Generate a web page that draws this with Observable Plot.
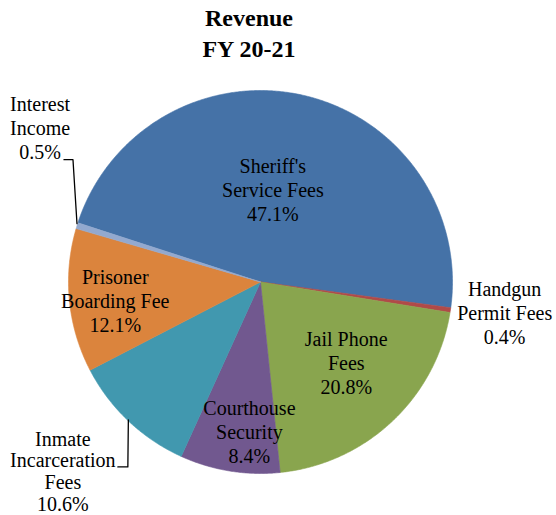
<!DOCTYPE html>
<html>
<head>
<meta charset="utf-8">
<style>
  @font-face { font-family: "ChartSerif"; font-weight: 400; src: local("Liberation Serif"), local("LiberationSerif"), local("LiberationSerif-Regular"), local("Times New Roman"); }
  @font-face { font-family: "ChartSerif"; font-weight: 700; src: local("Liberation Serif Bold"), local("LiberationSerif-Bold"), local("Times New Roman Bold"); }
</style>
<script src="https://cdn.jsdelivr.net/npm/d3@7"></script>
<script src="https://cdn.jsdelivr.net/npm/@observablehq/plot@0.6"></script>
</head>
<body style="margin:0;background:#fff;font-size:20px;font-family:'Liberation Serif'">
<div id="title" style="width:498px;height:66px;box-sizing:border-box;padding-top:3.4px;font-family:'Liberation Serif', ChartSerif, serif;font-weight:bold;font-size:24px;line-height:31px;text-align:center;color:#000">Revenue<br>FY 20-21</div>
<div id="chart"></div>
<script>
// ---- data ----
const categories = ["Sheriff's Service Fees", "Handgun Permit Fees", "Jail Phone Fees",
  "Courthouse Security", "Inmate Incarceration Fees", "Prisoner Boarding Fee", "Interest Income"];
const labelText = ["Sheriff's\nService Fees", "Handgun\nPermit Fees", "Jail Phone\nFees",
  "Courthouse\nSecurity", "Inmate\nIncarceration\nFees", "Prisoner\nBoarding Fee", "Interest\nIncome"];
const shares = [47.1, 0.4, 20.8, 8.4, 10.6, 12.1, 0.5];
const colors = ["#4572A7", "#B04A48", "#89A54E", "#71588F", "#4198AF", "#DB843D", "#93A9CF"];

// ---- layout / style ----
const START_DEG = 288;
const RX = 192, RY = 191.5; // pixel radius, used to convert pixel nudges to data units
const labelLayout = {
  "Sheriff's Service Fees":    {k: 0.5,  dx: -9,   dy: 0.5},
  "Handgun Permit Fees":       {k: 1.27, dx: 3,    dy: -5},
  "Jail Phone Fees":           {k: 0.62, dx: 4,    dy: -6},
  "Courthouse Security":       {k: 0.78, dx: 13,   dy: 1.5},
  "Inmate Incarceration Fees": {k: 1.42, dx: -10,  dy: -8, lh: 1.09},
  "Prisoner Boarding Fee":     {k: 0.76, dx: 0,    dy: 4},
  "Interest Income":           {k: 1.4,  dx: 36.5, dy: -76}
};
const leaderLayout = {
  "Interest Income":           [[0, -2], [-4, -66], [-13, -66]],
  "Inmate Incarceration Fees": [[0, -1], [-0.5, 46], [-10.5, 46]]
};

function draw() {
  const rows = categories.map((c, i) => ({name: c, label: labelText[i], share: shares[i]}));
  const start = START_DEG * Math.PI / 180;
  const arcs = d3.pie().sort(null).value(d => d.share).startAngle(start).endAngle(start + 2 * Math.PI)(rows);

  const slicePts = [];
  for (const a of arcs) {
    const n = Math.max(2, Math.ceil((a.endAngle - a.startAngle) / (0.4 * Math.PI / 180)));
    slicePts.push({name: a.data.name, x: 0, y: 0});
    for (let j = 0; j <= n; j++) {
      const t = a.startAngle + (a.endAngle - a.startAngle) * j / n;
      slicePts.push({name: a.data.name, x: Math.sin(t), y: Math.cos(t)});
    }
    slicePts.push({name: a.data.name, x: 0, y: 0});
  }

  const labels = arcs.map(a => {
    const L = labelLayout[a.data.name];
    const m = (a.startAngle + a.endAngle) / 2;
    return {
      name: a.data.name,
      text: a.data.label + "\n" + a.data.share.toFixed(1) + "%",
      x: L.k * Math.sin(m) + L.dx / RX,
      y: L.k * Math.cos(m) - L.dy / RY,
      lh: L.lh || 1.2
    };
  });

  const leaderPts = [];
  for (const a of arcs) {
    const off = leaderLayout[a.data.name];
    if (!off) continue;
    const m = (a.startAngle + a.endAngle) / 2;
    const ex = Math.sin(m), ey = Math.cos(m);
    for (const [ox, oy] of off) leaderPts.push({name: a.data.name, x: ex + ox / RX, y: ey - oy / RY});
  }

  const font = "'Liberation Serif', ChartSerif, serif";
  const plot = Plot.plot({
    width: 556,
    height: 449,
    marginLeft: 68, marginRight: 104, marginTop: 24, marginBottom: 42,
    x: {domain: [-1, 1], axis: null},
    y: {domain: [-1, 1], axis: null},
    color: {domain: categories, range: colors},
    style: {fontFamily: font, fontSize: "20px", color: "#000", background: "#fff", overflow: "visible"},
    marks: [
      Plot.line(slicePts, {x: "x", y: "y", z: "name", fill: "name", stroke: "name", strokeWidth: 0.6}),
      Plot.line(leaderPts, {x: "x", y: "y", z: "name", stroke: "#000", strokeWidth: 1.3}),
      Plot.text(labels.filter(d => d.lh === 1.2), {x: "x", y: "y", text: "text", fill: "#000",
        fontSize: 20, lineHeight: 1.2, fontFamily: font}),
      Plot.text(labels.filter(d => d.lh !== 1.2), {x: "x", y: "y", text: "text", fill: "#000",
        fontSize: 20, lineHeight: 1.09, fontFamily: font})
    ]
  });
  document.getElementById("chart").append(plot);
}

draw();
</script>
</body>
</html>
